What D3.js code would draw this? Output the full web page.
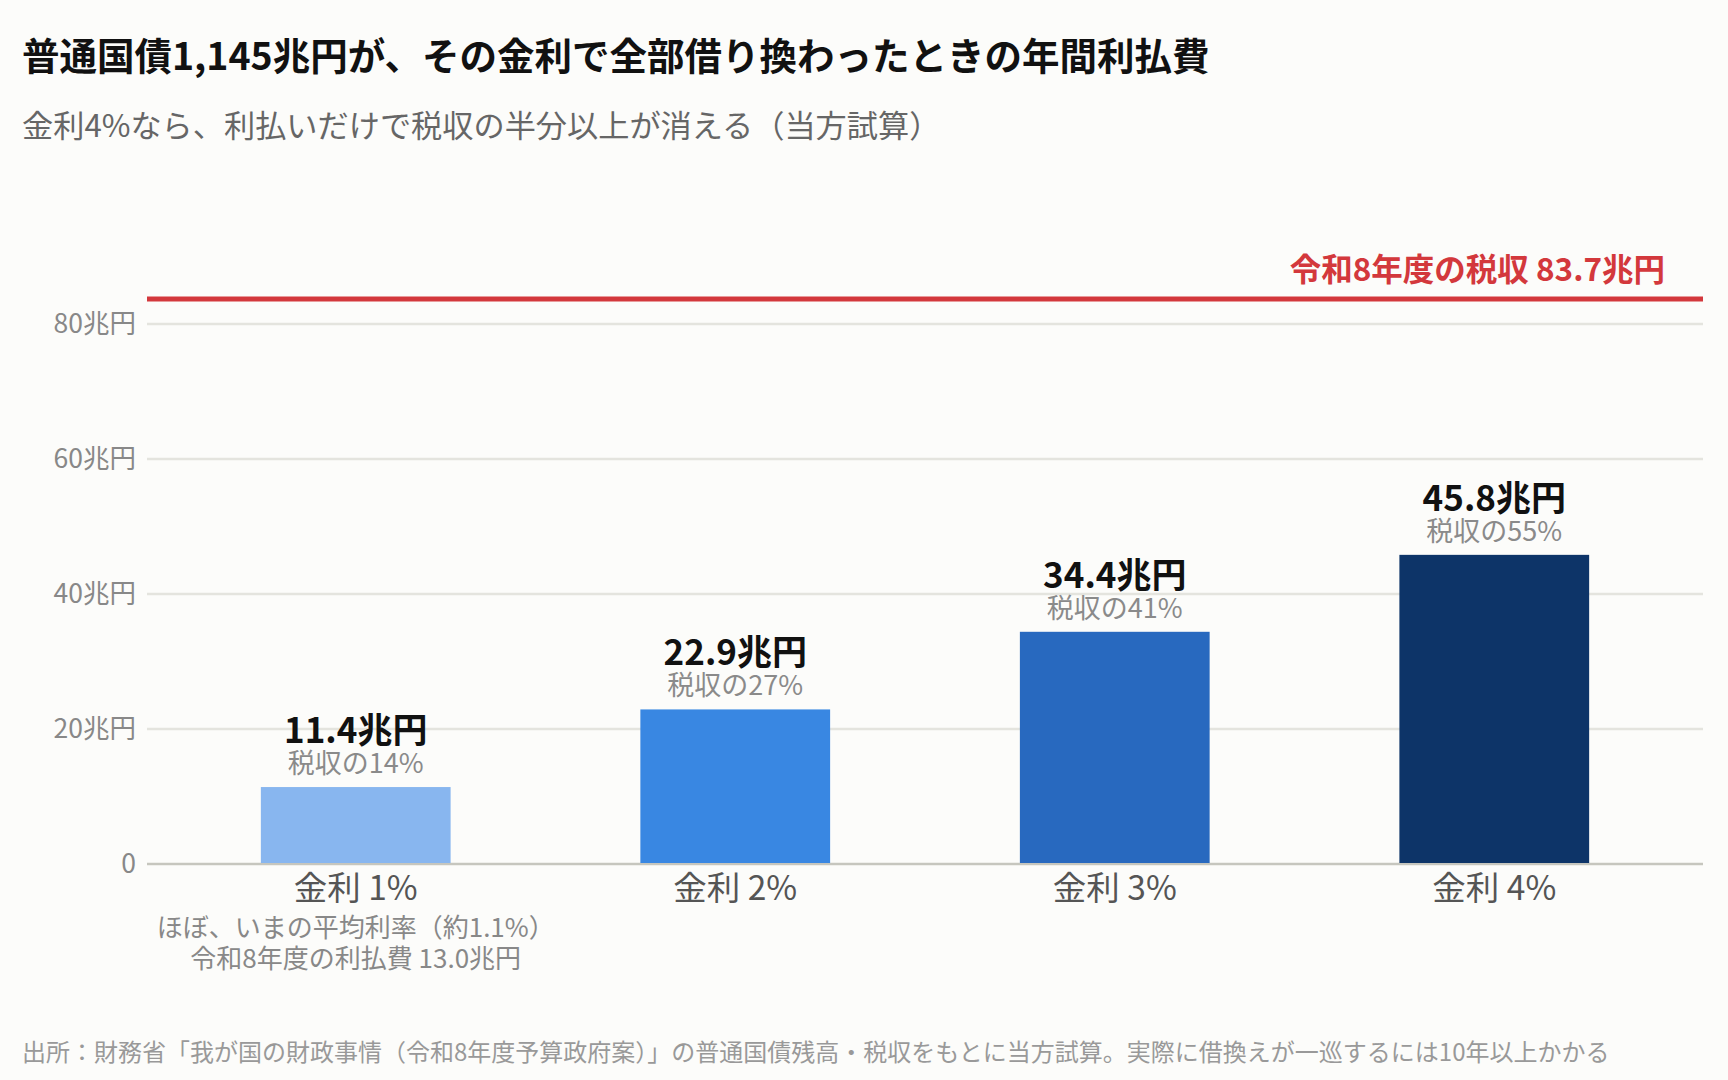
<!DOCTYPE html>
<html lang="ja">
<head>
<meta charset="utf-8">
<script src="https://cdn.jsdelivr.net/npm/d3@7"></script>
<style>
    body { margin: 0; background: #fcfcfa; }
    svg { display: block; font-family: "Noto Sans CJK JP", "Noto Sans", sans-serif; }
</style>
</head>
<body>
<svg id="chart"></svg>
<script>
// 金利ごとの年間利払費（兆円）
const categories = ["金利 1%", "金利 2%", "金利 3%", "金利 4%"];
const payments = [11.4, 22.9, 34.4, 45.8];
const shareOfTax = [14, 27, 41, 55];
const yTicks = [0, 20, 40, 60, 80];
const taxRevenue = 83.7;
const firstBarNotes = ["ほぼ、いまの平均利率（約1.1%）", "令和8年度の利払費 13.0兆円"];

const barColors = ["#88b6ef", "#3987e2", "#2869bf", "#0d3468"];

const width = 1728, height = 1080;
const margin = { top: 324, right: 25, bottom: 216, left: 147 };

const svg = d3.select("#chart")
    .attr("width", width)
    .attr("height", height);

svg.append("rect")
    .attr("width", width)
    .attr("height", height)
    .attr("fill", "#fcfcfa");

// タイトル
svg.append("text")
    .attr("x", 22)
    .attr("y", 70)
    .attr("font-size", 37.5)
    .attr("font-weight", 700)
    .attr("fill", "#111")
    .text("普通国債1,145兆円が、その金利で全部借り換わったときの年間利払費");

svg.append("text")
    .attr("x", 22)
    .attr("y", 137)
    .attr("font-size", 31.2)
    .attr("fill", "#666")
    .text("金利4%なら、利払いだけで税収の半分以上が消える（当方試算）");

const x = d3.scaleBand()
    .domain(categories)
    .range([margin.left, width - margin.right])
    .paddingInner(0.5)
    .paddingOuter(0.3);

const y = d3.scaleLinear()
    .domain([0, 80])
    .range([height - margin.bottom, margin.top]);

const color = d3.scaleOrdinal()
    .domain(categories)
    .range(barColors);

// グリッド
svg.append("g")
    .selectAll("line")
    .data(yTicks)
    .join("line")
    .attr("x1", margin.left)
    .attr("x2", width - margin.right)
    .attr("y1", d => y(d))
    .attr("y2", d => y(d))
    .attr("stroke", d => d === 0 ? "#c6c6be" : "#e4e4de")
    .attr("stroke-width", 2.5);

// y軸ラベル
const yAxis = svg.append("g")
    .attr("transform", `translate(${margin.left},0)`)
    .call(d3.axisLeft(y)
        .tickValues(yTicks)
        .tickSize(0)
        .tickPadding(11)
        .tickFormat(d => d === 0 ? "0" : d + "兆円"));
yAxis.select(".domain").remove();
yAxis.attr("font-family", null).attr("font-size", null);
yAxis.selectAll("text")
    .attr("font-size", 26.5)
    .attr("fill", "#888");

// 棒
const data = categories.map((c, i) => ({ cat: c, value: payments[i], share: shareOfTax[i] }));

svg.append("g")
    .selectAll("rect")
    .data(data)
    .join("rect")
    .attr("x", d => x(d.cat))
    .attr("y", d => y(d.value))
    .attr("width", x.bandwidth())
    .attr("height", d => y(0) - y(d.value) - 1)
    .attr("fill", d => color(d.cat));

// 値ラベル
const labels = svg.append("g")
    .attr("text-anchor", "middle");

labels.selectAll(".value")
    .data(data)
    .join("text")
    .attr("class", "value")
    .attr("x", d => x(d.cat) + x.bandwidth() / 2)
    .attr("y", d => y(d.value) - 44)
    .attr("font-size", 35)
    .attr("font-weight", 700)
    .attr("fill", "#111")
    .text(d => d.value.toFixed(1) + "兆円");

labels.selectAll(".share")
    .data(data)
    .join("text")
    .attr("class", "share")
    .attr("x", d => x(d.cat) + x.bandwidth() / 2)
    .attr("y", d => y(d.value) - 14)
    .attr("font-size", 27)
    .attr("fill", "#8a8a8a")
    .text(d => "税収の" + d.share + "%");

// x軸
const xAxis = svg.append("g")
    .attr("transform", `translate(0,${y(0)})`)
    .call(d3.axisBottom(x).tickSize(0).tickPadding(12));
xAxis.select(".domain").remove();
xAxis.attr("font-family", null).attr("font-size", null);
xAxis.selectAll("text")
    .attr("font-size", 33.5)
    .attr("fill", "#555");

// 金利1%の注記
svg.append("g")
    .attr("text-anchor", "middle")
    .selectAll("text")
    .data(firstBarNotes)
    .join("text")
    .attr("x", x(categories[0]) + x.bandwidth() / 2)
    .attr("y", (d, i) => 937 + i * 31)
    .attr("font-size", 26)
    .attr("fill", "#888")
    .text(d => d);

// 税収ライン
svg.append("line")
    .attr("x1", margin.left)
    .attr("x2", width - margin.right)
    .attr("y1", y(taxRevenue))
    .attr("y2", y(taxRevenue))
    .attr("stroke", "#d3383c")
    .attr("stroke-width", 5);

svg.append("text")
    .attr("x", 1665)
    .attr("y", y(taxRevenue) - 18)
    .attr("text-anchor", "end")
    .attr("font-size", 31.5)
    .attr("font-weight", 700)
    .attr("fill", "#d3383c")
    .text(`令和8年度の税収 ${taxRevenue}兆円`);

// 出所
svg.append("text")
    .attr("x", 22)
    .attr("y", 1061)
    .attr("font-size", 24)
    .attr("fill", "#999")
    .text("出所：財務省「我が国の財政事情（令和8年度予算政府案）」の普通国債残高・税収をもとに当方試算。実際に借換えが一巡するには10年以上かかる");
</script>
</body>
</html>
